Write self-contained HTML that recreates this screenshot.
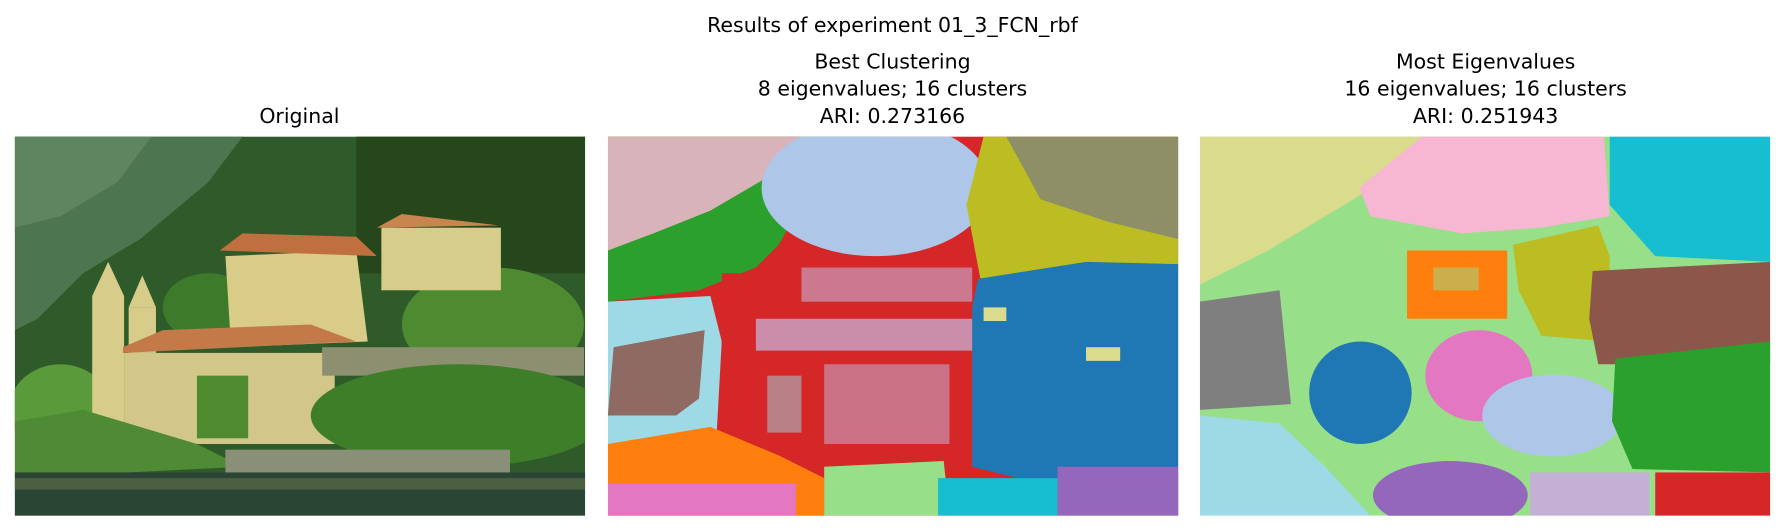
<!DOCTYPE html>
<html><head><meta charset="utf-8"><style>
html,body{margin:0;padding:0;background:#fff;width:1785px;height:532px;overflow:hidden}
svg text{font-family:"DejaVu Sans","Liberation Sans",sans-serif;fill:#000}
</style></head><body>
<svg width="1785" height="532" xmlns="http://www.w3.org/2000/svg">
<defs><clipPath id="pc"><rect width="501" height="333"/></clipPath></defs>
<g transform="scale(1.1384)">
<text x="784" y="28" font-size="18" text-anchor="middle">Results of experiment 01_3_FCN_rbf</text>
<text x="263" y="108" font-size="18" text-anchor="middle">Original</text>
<g font-size="18" text-anchor="middle">
<text x="784" y="60">Best Clustering</text><text x="784" y="84">8 eigenvalues; 16 clusters</text><text x="784" y="108">ARI: 0.273166</text></g>
<g font-size="18" text-anchor="middle">
<text x="1305" y="60">Most Eigenvalues</text><text x="1305" y="84">16 eigenvalues; 16 clusters</text><text x="1305" y="108">ARI: 0.251943</text></g>

<g transform="translate(13,120)" clip-path="url(#pc)">
<rect width="501" height="333" fill="#2f5a2a"/>
<polygon points="0,0 200,0 170,40 110,90 60,120 20,160 0,170" fill="#4d7650"/>
<polygon points="0,0 120,0 90,40 40,70 0,80" fill="#5f8460"/>
<rect x="300" y="0" width="201" height="120" fill="#26461c"/>
<ellipse cx="420" cy="165" rx="80" ry="50" fill="#4e8a30"/>
<ellipse cx="170" cy="150" rx="40" ry="30" fill="#3d7a2a"/>
<ellipse cx="40" cy="240" rx="45" ry="40" fill="#5a9a3a"/>
<polygon points="185,105 300,100 310,180 190,185" fill="#d8cc88"/>
<polygon points="180,100 200,85 300,88 318,105" fill="#c0703e"/>
<rect x="322" y="80" width="105" height="55" fill="#d6cc8c"/>
<polygon points="318,80 340,68 425,78" fill="#c8864e"/>
<rect x="68" y="140" width="28" height="125" fill="#d8cc8a"/>
<rect x="100" y="150" width="24" height="40" fill="#d8cc8a"/>
<polygon points="68,140 82,110 96,140" fill="#d8cc8a"/>
<polygon points="100,150 112,122 124,150" fill="#d8cc8a"/>
<polygon points="95,185 130,170 260,165 300,180 95,190" fill="#c47a48"/>
<rect x="96" y="190" width="185" height="80" fill="#d2c688"/>
<rect x="160" y="210" width="45" height="55" fill="#4f8a30"/>
<rect x="270" y="185" width="230" height="25" fill="#8c9070"/>
<ellipse cx="390" cy="245" rx="130" ry="45" fill="#3e7e28"/>
<polygon points="0,250 60,240 160,270 200,290 0,300" fill="#4f8a35"/>
<rect x="185" y="275" width="250" height="25" fill="#8a9078"/>
<rect x="0" y="295" width="501" height="38" fill="#2a4534"/>
<rect x="0" y="300" width="501" height="10" fill="#4a6040"/>
</g>

<g transform="translate(534,120)" clip-path="url(#pc)">
<rect width="501" height="333" fill="#d62728"/>
<polygon points="0,0 240,0 210,30 170,60 150,95 130,115 80,135 0,145" fill="#2ca02c"/>
<polygon points="0,0 170,0 150,30 90,65 40,85 0,100" fill="#f7b6d2" opacity="0.85"/>
<ellipse cx="235" cy="45" rx="100" ry="60" fill="#aec7e8"/>
<polygon points="330,0 501,0 501,115 420,118 330,140 315,60" fill="#bcbd22"/>
<polygon points="350,0 501,0 501,90 440,75 380,55" fill="#7f7f7f" opacity="0.75"/>
<polygon points="325,125 420,110 501,112 501,333 440,320 320,290 310,200" fill="#1f77b4"/>
<rect x="330" y="150" width="20" height="12" fill="#dbdb8d"/>
<rect x="420" y="185" width="30" height="12" fill="#dbdb8d"/>
<polygon points="0,145 90,140 100,180 95,270 0,280" fill="#9edae5"/>
<polygon points="5,185 85,170 80,230 60,245 0,245" fill="#8c564b" opacity="0.85"/>
<rect x="100" y="120" width="220" height="200" fill="#d62728"/>
<rect x="170" y="115" width="150" height="30" fill="#c5b0d5" opacity="0.6"/>
<rect x="130" y="160" width="190" height="28" fill="#c5b0d5" opacity="0.75"/>
<rect x="190" y="200" width="110" height="70" fill="#c5b0d5" opacity="0.55"/>
<rect x="140" y="210" width="30" height="50" fill="#9edae5" opacity="0.5"/>
<polygon points="0,270 90,255 150,280 190,300 190,333 0,333" fill="#ff7f0e"/>
<rect x="0" y="305" width="165" height="28" fill="#e377c2"/>
<polygon points="190,290 295,285 300,333 190,333" fill="#98df8a"/>
<rect x="290" y="300" width="105" height="33" fill="#17becf"/>
<rect x="395" y="290" width="106" height="43" fill="#9467bd"/>
</g>

<g transform="translate(1054,120)" clip-path="url(#pc)">
<rect width="501" height="333" fill="#98df8a"/>
<polygon points="0,0 200,0 160,40 110,70 60,100 0,130" fill="#dbdb8d"/>
<polygon points="195,0 355,0 360,70 300,80 230,85 150,70 140,45" fill="#f7b6d2"/>
<polygon points="360,0 501,0 501,110 400,105 360,60" fill="#17becf"/>
<polygon points="275,95 350,78 360,105 360,180 300,175 280,135" fill="#bcbd22"/>
<rect x="182" y="100" width="88" height="60" fill="#ff7f0e"/>
<rect x="205" y="115" width="40" height="20" fill="#98df8a" opacity="0.5"/>
<polygon points="345,118 501,110 501,200 350,200 342,160" fill="#8c564b"/>
<polygon points="0,145 70,135 80,235 0,240" fill="#7f7f7f"/>
<ellipse cx="141" cy="225" rx="45" ry="45" fill="#1f77b4"/>
<ellipse cx="245" cy="210" rx="47" ry="40" fill="#e377c2"/>
<ellipse cx="310" cy="245" rx="62" ry="36" fill="#aec7e8"/>
<polygon points="365,195 501,180 501,295 380,292 362,250" fill="#2ca02c"/>
<polygon points="0,245 70,252 110,290 150,333 0,333" fill="#9edae5"/>
<ellipse cx="220" cy="315" rx="68" ry="30" fill="#9467bd"/>
<rect x="290" y="295" width="105" height="38" fill="#c5b0d5"/>
<rect x="400" y="295" width="101" height="38" fill="#d62728"/>
</g>
</g>
</svg>
</body></html>
